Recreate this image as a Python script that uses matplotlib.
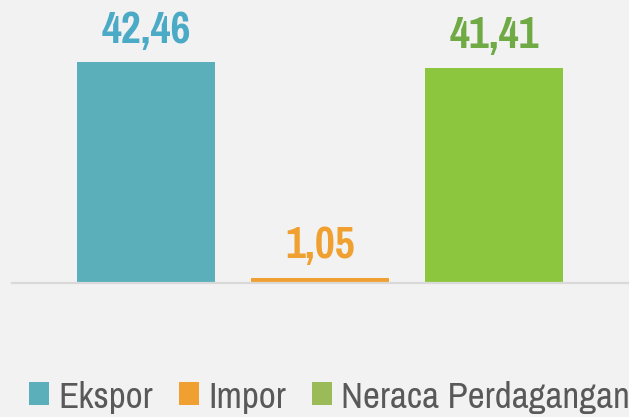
import matplotlib
matplotlib.use("Agg")
import matplotlib.pyplot as plt
from matplotlib.patches import Patch

categories = ["Ekspor", "Impor", "Neraca Perdagangan"]
values = [42.46, 1.05, 41.41]
labels = ["42,46", "1,05", "41,41"]

bar_colors = ["#5aafbb", "#f0a030", "#8cc63f"]
label_colors = ["#4babc6", "#f0a030", "#6faa45"]
legend_colors = ["#5aafbb", "#f0a030", "#9bbb59"]

plt.rcParams['font.family'] = ['Pragati Narrow', 'DejaVu Sans']

fig = plt.figure(figsize=(6.29, 4.17), dpi=100)
fig.patch.set_facecolor("#f2f2f2")
ax = fig.add_axes([12 / 629, 1 - 283 / 417, 616 / 629, 283 / 417])
ax.set_facecolor("#f2f2f2")

x = range(len(categories))
bars = ax.bar(x, values, width=0.793, color=bar_colors)
ax.set_xlim(-0.770, 2.770)
ax.set_ylim(0, 54.4)

for b, lab, c in zip(bars, labels, label_colors):
    ax.annotate(lab, (b.get_x() + b.get_width() / 2, b.get_height()),
                xytext=(0, 14), textcoords="offset points",
                ha="center", va="baseline", fontsize=34, fontweight="bold",
                color=c)

for s in ["top", "right", "left"]:
    ax.spines[s].set_visible(False)
ax.spines["bottom"].set_color("#d9d9d9")
ax.spines["bottom"].set_linewidth(1.6)
ax.set_xticks([])
ax.set_yticks([])

handles = [Patch(facecolor=c, edgecolor="none") for c in legend_colors]
leg = fig.legend(handles, categories, loc="center left",
                 bbox_to_anchor=(29 / 629, 1 - 397 / 417), ncol=3,
                 frameon=False, fontsize=29, handlelength=0.5,
                 handleheight=0.5, handletextpad=0.22, columnspacing=0.65,
                 borderaxespad=0, borderpad=0)
for t in leg.get_texts():
    t.set_color("#595959")

fig.savefig("out.png", dpi=100, facecolor=fig.get_facecolor())
